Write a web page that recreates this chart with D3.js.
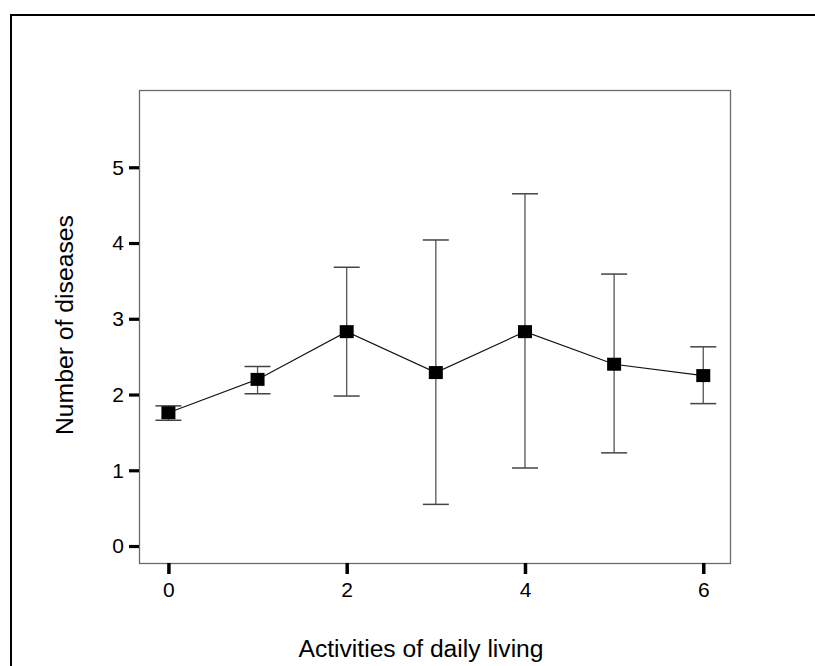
<!DOCTYPE html>
<html>
<head>
<meta charset="utf-8">
<script src="https://cdn.jsdelivr.net/npm/d3@7"></script>
<style>
  html, body { margin: 0; padding: 0; background: #fff; }
  svg { display: block; font-family: "Liberation Sans", Arial, sans-serif; }
</style>
</head>
<body>
<svg id="chart" width="815" height="666"></svg>
<script>
// ---- data ----
const categories = [0, 1, 2, 3, 4, 5, 6];
const means = [1.76, 2.20, 2.83, 2.29, 2.83, 2.40, 2.25];
const lower = [1.66, 2.01, 1.98, 0.55, 1.03, 1.23, 1.88];
const upper = [1.85, 2.37, 3.68, 4.04, 4.65, 3.59, 2.63];
const xTicks = [0, 2, 4, 6];
const yTicks = [0, 1, 2, 3, 4, 5];
const xTitle = "Activities of daily living";
const yTitle = "Number of diseases";

const svg = d3.select("#chart");
const box = { left: 139, right: 730, top: 90, bottom: 563 };

const x = d3.scaleLinear().domain([-0.33, 6.30]).range([box.left, box.right]);
const y = d3.scaleLinear().domain([-0.224, 6.02]).range([box.bottom, box.top]);

// outer frame (left and top visible)
svg.append("path")
  .attr("d", `M11,666 L11,15 L815,15`)
  .attr("fill", "none").attr("stroke", "#000").attr("stroke-width", 2);

// plot box
svg.append("rect")
  .attr("x", box.left + 0.5).attr("y", box.top + 0.5)
  .attr("width", box.right - box.left).attr("height", box.bottom - box.top)
  .attr("fill", "none").attr("stroke", "#6b6b6b").attr("stroke-width", 1.3);

// y axis ticks and labels
const yAxis = d3.axisLeft(y).tickValues(yTicks).tickSize(10).tickPadding(5).tickFormat(d3.format("d"));
const gy = svg.append("g").attr("transform", `translate(${box.left},0)`).call(yAxis);
gy.select(".domain").remove();
gy.selectAll(".tick line").attr("stroke", "#000").attr("stroke-width", 3.2);
gy.selectAll(".tick text").style("font-size", "21px").attr("fill", "#000")
  .style("font-family", "'Liberation Sans', Arial, sans-serif");

// x axis ticks and labels
const xAxis = d3.axisBottom(x).tickValues(xTicks).tickSize(11).tickPadding(8).tickFormat(d3.format("d"));
const gx = svg.append("g").attr("transform", `translate(0,${box.bottom})`).call(xAxis);
gx.select(".domain").remove();
gx.selectAll(".tick line").attr("stroke", "#000").attr("stroke-width", 3.5);
gx.selectAll(".tick text").style("font-size", "21px").attr("fill", "#000")
  .style("font-family", "'Liberation Sans', Arial, sans-serif");

// titles
svg.append("text")
  .attr("x", 421).attr("y", 657)
  .attr("text-anchor", "middle")
  .style("font-size", "23px")
  .attr("textLength", 245).attr("lengthAdjust", "spacingAndGlyphs")
  .text(xTitle);

svg.append("text")
  .attr("transform", `translate(73,325) rotate(-90)`)
  .attr("text-anchor", "middle")
  .style("font-size", "23px")
  .attr("textLength", 220).attr("lengthAdjust", "spacingAndGlyphs")
  .text(yTitle);

// data
const data = categories.map((c, i) => ({ c, m: means[i], lo: lower[i], hi: upper[i] }));

// error bars
const eb = svg.append("g");
data.forEach(d => {
  eb.append("line").attr("x1", x(d.c)).attr("x2", x(d.c))
    .attr("y1", y(d.hi)).attr("y2", y(d.lo))
    .attr("stroke", "#555").attr("stroke-width", 1.3);
  [d.hi, d.lo].forEach(v => {
    eb.append("line").attr("x1", x(d.c) - 13).attr("x2", x(d.c) + 13)
      .attr("y1", y(v)).attr("y2", y(v))
      .attr("stroke", "#444").attr("stroke-width", 1.5);
  });
});

// connecting line
svg.append("path").datum(data)
  .attr("d", d3.line().x(d => x(d.c)).y(d => y(d.m)))
  .attr("fill", "none").attr("stroke", "#111").attr("stroke-width", 1.1);

// markers
svg.append("g").selectAll("rect").data(data).join("rect")
  .attr("x", d => x(d.c) - 7).attr("y", d => y(d.m) - 6.5)
  .attr("width", 14).attr("height", 13)
  .attr("fill", "#000");
</script>
</body>
</html>
